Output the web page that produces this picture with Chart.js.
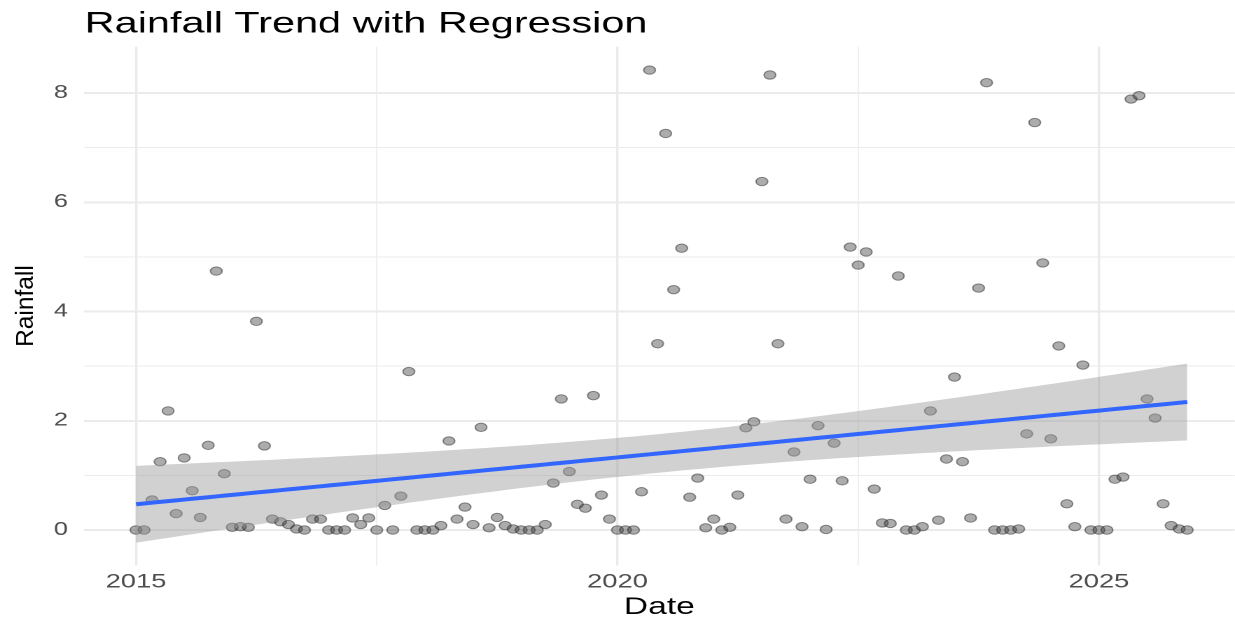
<!DOCTYPE html>
<html>
<head>
<meta charset="utf-8">
<script src="https://cdn.jsdelivr.net/npm/chart.js@4.4.1/dist/chart.umd.min.js"></script>
<style>
  body { margin: 0; background: #fff; overflow: hidden; }
  #wrap { width: 887px; height: 619px; transform: scaleX(1.4002); transform-origin: 0 0; }
</style>
</head>
<body>
<div id="wrap"><canvas id="chart" width="887" height="619"></canvas></div>
<script>
// the reference image is stretched sideways, so draw narrow and scale with css
const STRETCH = 1.4002;

const firstYear = 2015;
// monthly rainfall, Jan 2015 .. Dec 2025
const rainfall = [
  0, 0, 0.55, 1.25, 2.18, 0.30, 1.32, 0.72, 0.23, 1.55, 4.74, 1.03,
  0.05, 0.06, 0.05, 3.82, 1.54, 0.20, 0.15, 0.10, 0.02, 0, 0.20, 0.20,
  0, 0, 0, 0.22, 0.10, 0.22, 0, 0.45, 0, 0.62, 2.90, 0,
  0, 0, 0.08, 1.63, 0.20, 0.42, 0.10, 1.88, 0.04, 0.23, 0.08, 0.02,
  0, 0, 0, 0.10, 0.86, 2.40, 1.07, 0.47, 0.40, 2.46, 0.64, 0.20,
  0, 0, 0, 0.70, 8.42, 3.41, 7.26, 4.40, 5.16, 0.60, 0.95, 0.04,
  0.20, 0, 0.05, 0.64, 1.87, 1.98, 6.38, 8.33, 3.41, 0.20, 1.43, 0.06,
  0.93, 1.91, 0.01, 1.59, 0.90, 5.18, 4.85, 5.09, 0.75, 0.13, 0.12, 4.65,
  0, 0, 0.06, 2.18, 0.18, 1.30, 2.80, 1.25, 0.22, 4.43, 8.19, 0,
  0, 0, 0.02, 1.76, 7.46, 4.89, 1.67, 3.37, 0.48, 0.06, 3.02, 0,
  0, 0, 0.93, 0.97, 7.89, 7.95, 2.40, 2.05, 0.48, 0.08, 0.02, 0
];
const yearTicks = [2015, 2020, 2025];
const rainTicks = [0, 2, 4, 6, 8];

// dates as decimal years (first of each month)
const dates = rainfall.map((v, i) => firstYear + i / 12);

// linear fit with 95% confidence band, like geom_smooth(method = "lm")
const n = rainfall.length;
const mx = dates.reduce((a, b) => a + b, 0) / n;
const my = rainfall.reduce((a, b) => a + b, 0) / n;
let sxx = 0, sxy = 0;
dates.forEach((x, i) => { sxx += (x - mx) ** 2; sxy += (x - mx) * (rainfall[i] - my); });
const slope = sxy / sxx;
const icpt = my - slope * mx;
let sse = 0;
dates.forEach((x, i) => { sse += (rainfall[i] - (icpt + slope * x)) ** 2; });
const se = Math.sqrt(sse / (n - 2));
const tq = 1.978;

const fit = dates.map(x => ({ x: x, y: icpt + slope * x }));
const half = dates.map(x => tq * se * Math.sqrt(1 / n + (x - mx) ** 2 / sxx));
const upper = fit.map((p, i) => ({ x: p.x, y: p.y + half[i] }));
const lower = fit.map((p, i) => ({ x: p.x, y: p.y - half[i] }));

const textPlugin = {
  id: 'texts',
  afterDraw(chart) {
    const ctx = chart.ctx;
    const area = chart.chartArea;
    ctx.save();
    ctx.fillStyle = '#000';
    ctx.textBaseline = 'alphabetic';

    ctx.font = '29.6px "Liberation Sans", Arial, sans-serif';
    ctx.textAlign = 'left';
    ctx.fillText('Rainfall Trend with Regression', area.left + 0.5, 32.5);

    ctx.font = '24px "Liberation Sans", Arial, sans-serif';
    ctx.textAlign = 'center';
    ctx.fillText('Date', (area.left + area.right) / 2, 614);

    // y title is not stretched in the reference
    ctx.scale(1 / STRETCH, 1);
    ctx.translate(33, (area.top + area.bottom) / 2);
    ctx.rotate(-Math.PI / 2);
    ctx.font = '24.5px "Liberation Sans", Arial, sans-serif';
    ctx.fillText('Rainfall', 0, 0);
    ctx.restore();
  }
};

new Chart(document.getElementById('chart').getContext('2d'), {
  type: 'scatter',
  data: {
    datasets: [
      {
        label: 'Rainfall',
        data: dates.map((x, i) => ({ x: x, y: rainfall[i] })),
        backgroundColor: 'rgba(70, 70, 70, 0.45)',
        borderColor: 'rgba(35, 35, 35, 0.5)',
        borderWidth: 1,
        pointRadius: 4.2,
        order: 3,
      },
      {
        type: 'line',
        label: 'upper',
        data: upper,
        borderColor: 'transparent',
        borderWidth: 0,
        pointRadius: 0,
        fill: false,
        order: 2,
      },
      {
        type: 'line',
        label: 'lower',
        data: lower,
        borderColor: 'transparent',
        borderWidth: 0,
        pointRadius: 0,
        fill: '-1',
        backgroundColor: 'rgba(153, 153, 153, 0.45)',
        order: 2,
      },
      {
        type: 'line',
        label: 'fit',
        data: fit,
        borderColor: '#3366ff',
        borderWidth: 4,
        pointRadius: 0,
        fill: false,
        order: 1,
      },
    ],
  },
  options: {
    responsive: false,
    animation: false,
    devicePixelRatio: 2,
    layout: { padding: { top: 46.6, right: 0, bottom: 0, left: 0 } },
    plugins: {
      legend: { display: false },
      tooltip: { enabled: false },
      title: { display: false },
    },
    scales: {
      x: {
        type: 'linear',
        min: 2014.46,
        max: 2026.41,
        afterFit: (s) => { s.height = 53.5; },
        border: { display: false },
        grid: {
          drawTicks: false,
          color: '#ebebeb',
          lineWidth: (c) => (yearTicks.includes(c.tick && c.tick.value) ? 1.7 : 0.8),
        },
        ticks: {
          stepSize: 2.5,
          includeBounds: false,
          autoSkip: false,
          maxRotation: 0,
          padding: 5,
          color: '#4d4d4d',
          font: { family: '"Liberation Sans", Arial, sans-serif', size: 19.5 },
          callback: (v) => (yearTicks.includes(v) ? String(v) : ''),
        },
      },
      y: {
        min: -0.65,
        max: 8.85,
        afterFit: (s) => { s.width = 60; },
        border: { display: false },
        grid: {
          drawTicks: false,
          color: '#ebebeb',
          lineWidth: (c) => (rainTicks.includes(c.tick && c.tick.value) ? 2 : 1),
        },
        ticks: {
          stepSize: 1,
          includeBounds: false,
          padding: 11.5,
          color: '#4d4d4d',
          font: { family: '"Liberation Sans", Arial, sans-serif', size: 18 },
          callback: (v) => (rainTicks.includes(v) ? String(v) : ''),
        },
      },
    },
  },
  plugins: [textPlugin],
});
</script>
</body>
</html>
